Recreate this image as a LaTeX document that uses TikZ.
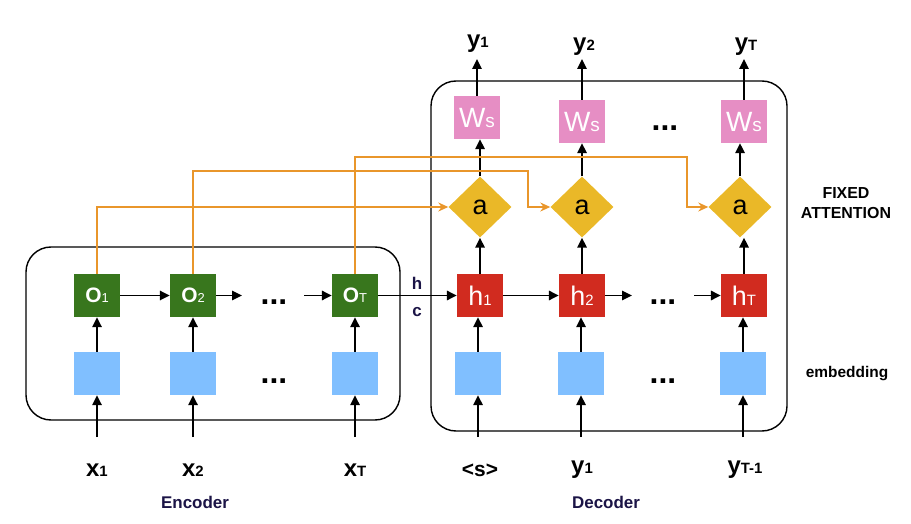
\documentclass[tikz,border=0pt]{standalone}
\usepackage{fontspec}
\setmainfont{Liberation Sans}
\usetikzlibrary{shapes.geometric,arrows.meta}
\definecolor{encg}{HTML}{38761D}
\definecolor{decr}{HTML}{D12B1F}
\definecolor{embb}{HTML}{80BFFF}
\definecolor{wspk}{HTML}{E68EC4}
\definecolor{atty}{HTML}{EAB828}
\definecolor{orng}{HTML}{E9962B}
\definecolor{navy}{HTML}{1B1446}
\newcommand{\vlab}[2]{{\fontsize{24}{24}\selectfont\bfseries #1}{\fontsize{15}{15}\selectfont\bfseries #2}}
\newcommand{\olab}[2]{{\fontsize{21}{21}\selectfont\bfseries #1}{\fontsize{13}{13}\selectfont #2}}
\newcommand{\hlab}[2]{{\fontsize{27}{27}\selectfont #1}{\fontsize{15}{15}\selectfont #2}}
\newcommand{\wlab}[2]{{\fontsize{28}{28}\selectfont #1}{\fontsize{19}{19}\selectfont #2}}
\begin{document}
\begin{tikzpicture}[x=1bp,y=-1bp,
  box/.style={minimum width=46bp, minimum height=43bp, inner sep=0pt},
  enc/.style={box, fill=encg, text=white},
  dec/.style={box, fill=decr, text=white},
  emb/.style={box, fill=embb},
  ws/.style={box, fill=wspk, text=white},
  att/.style={diamond, fill=atty, minimum width=63bp, minimum height=61bp, inner sep=0pt, font=\fontsize{27}{27}\selectfont},
  arr/.style={-{Triangle[length=10bp,width=9.5bp]}, line width=1.6bp},
  oarr/.style={draw=orng, line width=1.3bp, -{Stealth[length=10bp,width=9bp]}},
  frame/.style={line width=1.4bp, rounded corners=25bp},
  txt/.style={inner sep=0pt},
  dots/.style={txt, font=\fontsize{32}{32}\selectfont\bfseries},
  side/.style={txt, font=\fontsize{17}{17}\selectfont\bfseries, text=navy},
]
\path[use as bounding box] (0,0) rectangle (911,524);

% frames
\draw[frame] (26,247) rectangle (400,420);
\draw[frame] (431,81) rectangle (787,431);

% encoder
\node[enc] (o1) at (97,295.5) {\raisebox{-2bp}{\olab{O}{1}}};
\node[enc] (o2) at (193,295.5) {\raisebox{-2bp}{\olab{O}{2}}};
\node[enc] (oT) at (355,295.5) {\raisebox{-2bp}{\olab{O}{T}}};
\node[emb] (e1) at (97,373.5) {};
\node[emb] (e2) at (193,373.5) {};
\node[emb] (eT) at (355,373.5) {};
\node[dots] (d1) at (274,302) {...};
\node[dots] (d2) at (274,381) {...};

% decoder
\node[dec] (h1) at (480,295.5) {\hlab{h}{1}};
\node[dec] (h2) at (582,295.5) {\hlab{h}{2}};
\node[dec] (hT) at (744,295.5) {\hlab{h}{T}};
\node[emb] (f1) at (478,373.5) {};
\node[emb] (f2) at (581,373.5) {};
\node[emb] (fT) at (743,373.5) {};
\node[dots] (d3) at (663,302) {...};
\node[dots] (d4) at (663,381) {...};
\node[att] (a1) at (480,207) {a};
\node[att] (a2) at (582,207) {a};
\node[att] (aT) at (740,207) {a};
\node[ws] (w1) at (477,117.5) {\wlab{W}{s}};
\node[ws] (w2) at (582,121.5) {\wlab{W}{s}};
\node[ws] (wT) at (744,121.5) {\wlab{W}{s}};
\node[dots] (d5) at (665,128) {...};

% top labels
\node[txt] (y1) at (478,44) {\vlab{y}{1}};
\node[txt] (y2) at (584,47) {\vlab{y}{2}};
\node[txt] (yT) at (746,47) {\vlab{y}{T}};
\coordinate (t1) at (477,59);
\coordinate (t2) at (582,59);
\coordinate (tT) at (744,59);
\draw[arr] (w1.north) -- (t1);
\draw[arr] (w2.north) -- (t2);
\draw[arr] (wT.north) -- (tT);

% bottom labels
\node[txt] (x1) at (97,470) {\vlab{x}{1}};
\node[txt] (x2) at (193,470) {\vlab{x}{2}};
\node[txt] (xT) at (355,470) {\vlab{x}{T}};
\node[txt] (s0) at (480,470) {\fontsize{21}{21}\selectfont\bfseries <s>};
\node[txt] (z1) at (582,470) {\vlab{y}{1}};
\node[txt] (zT) at (745,470) {\vlab{y}{T-1}};
\coordinate (b1) at (97,437);
\coordinate (b2) at (193,437);
\coordinate (bT) at (355,437);
\coordinate (c1) at (478,437);
\coordinate (c2) at (581,437);
\coordinate (cT) at (743,437);
\draw[arr] (b1) -- (e1.south);
\draw[arr] (b2) -- (e2.south);
\draw[arr] (bT) -- (eT.south);
\draw[arr] (c1) -- (f1.south);
\draw[arr] (c2) -- (f2.south);
\draw[arr] (cT) -- (fT.south);

% vertical arrows
\draw[arr] (e1.north) -- (o1.south);
\draw[arr] (e2.north) -- (o2.south);
\draw[arr] (eT.north) -- (oT.south);
\draw[arr] (f1.north) -- (f1.north |- h1.south);
\draw[arr] (f2.north) -- (f2.north |- h2.south);
\draw[arr] (fT.north) -- (fT.north |- hT.south);
\draw[arr] (h1.north) -- (h1.north |- a1.south);
\draw[arr] (h2.north) -- (h2.north |- a2.south);
\draw[arr] (hT.north) -- (hT.north |- aT.south);
\draw[arr] (a1.north) -- (a1.north |- w1.south);
\draw[arr] (a2.north) -- (a2.north |- w2.south);
\draw[arr] (aT.north) -- (aT.north |- wT.south);

% horizontal arrows
\coordinate (g1) at (242,295.5);
\coordinate (g2) at (304,295.5);
\coordinate (g3) at (632,295.5);
\coordinate (g4) at (694,295.5);
\draw[arr] (o1.east) -- (o2.west);
\draw[arr] (o2.east) -- (g1);
\draw[arr] (g2) -- (oT.west);
\draw[arr] (oT.east) -- (h1.west);
\draw[arr] (h1.east) -- (h2.west);
\draw[arr] (h2.east) -- (g3);
\draw[arr] (g4) -- (hT.west);

% attention connectors
\coordinate (k2) at (528,171);
\coordinate (kT) at (687,157);
\draw[oarr] (o1.north) |- (a1.west);
\draw[oarr] (o2.north) |- (k2) |- (a2.west);
\draw[oarr] (oT.north) |- (kT) |- (aT.west);

% side texts
\node[side] (hl) at (417,283) {h};
\node[side] (cl) at (417,312) {c};
\node[side] (encl) at (195,502) {Encoder};
\node[side] (decl) at (606,502) {Decoder};
\node[txt, font=\fontsize{16}{20}\selectfont\bfseries, align=center] (fa) at (846,203) {FIXED\\ATTENTION};
\node[txt, font=\fontsize{15.5}{15.5}\selectfont\bfseries] (embl) at (847,374) {embedding};
\end{tikzpicture}
\end{document}
